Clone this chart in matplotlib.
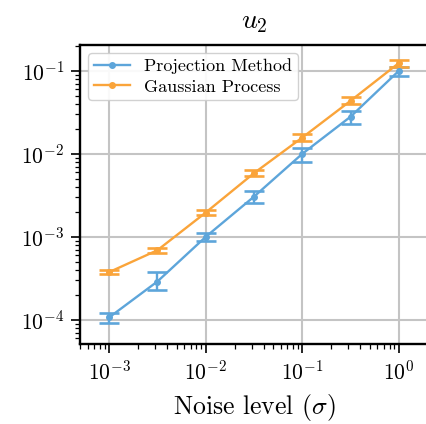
import matplotlib
matplotlib.use("Agg")
import matplotlib.pyplot as plt
import numpy as np

plt.rcParams['font.family'] = 'serif'
plt.rcParams['font.serif'] = ['cmr10', 'DejaVu Serif']
plt.rcParams['mathtext.fontset'] = 'cm'
plt.rcParams['axes.formatter.use_mathtext'] = True
plt.rcParams['axes.unicode_minus'] = False

# noise levels
sigma = [1e-3, 10**-2.5, 1e-2, 10**-1.5, 1e-1, 10**-0.5, 1.0]

# projection method: mean, lower, upper
pm_mean = [1.07e-4, 2.9e-4, 1.0e-3, 3.05e-3, 1.0e-2, 2.8e-2, 0.100]
pm_low = [9.1e-5, 2.3e-4, 0.90e-3, 2.55e-3, 0.80e-2, 2.3e-2, 0.087]
pm_high = [1.22e-4, 3.75e-4, 1.12e-3, 3.55e-3, 1.17e-2, 3.3e-2, 0.112]

# gaussian process: mean, lower, upper
gp_mean = [3.76e-4, 6.9e-4, 1.96e-3, 5.85e-3, 1.57e-2, 4.35e-2, 0.124]
gp_low = [3.55e-4, 6.4e-4, 1.83e-3, 5.4e-3, 1.43e-2, 3.95e-2, 0.112]
gp_high = [3.95e-4, 7.4e-4, 2.1e-3, 6.3e-3, 1.72e-2, 4.8e-2, 0.135]

blue = '#5DA5DA'
orange = '#FAA43A'

fig = plt.figure(figsize=(4.26, 4.24), dpi=100)
ax = fig.add_axes([80/426, 80/424, 348/426, 299/424])

def err(mean, low, high):
    m = np.array(mean)
    return [m - np.array(low), np.array(high) - m]

pm = ax.errorbar(sigma, pm_mean, yerr=err(pm_mean, pm_low, pm_high), color=blue,
                 marker='o', markersize=4, lw=1.7, capsize=7.5, capthick=1.9,
                 elinewidth=1.7, zorder=3)
gp = ax.errorbar(sigma, gp_mean, yerr=err(gp_mean, gp_low, gp_high), color=orange,
                 marker='o', markersize=4, lw=1.7, capsize=7.5, capthick=1.9,
                 elinewidth=1.7, zorder=3)

ax.set_xscale('log')
ax.set_yscale('log')
ax.set_xlim(5e-4, 2)
ax.set_ylim(10**-4.29, 10**-0.69)
ax.grid(True, which='major', color='#c4c4c4', lw=1.5)
ax.set_axisbelow(True)

for s in ax.spines.values():
    s.set_linewidth(1.7)
ax.tick_params(which='major', length=6.5, width=1.2, labelsize=15.5, direction='out', pad=5)
ax.tick_params(which='minor', length=3.5, width=0.9, direction='out')

ax.set_xlabel(r'Noise level ($\sigma$)', fontsize=18.5, labelpad=6)
ax.set_title(r'$u_2$', fontsize=20, pad=12)

ax.legend([pm[0], gp[0]], ['Projection Method', 'Gaussian Process'],
          loc='upper left', fontsize=13, framealpha=0.9, edgecolor='#cccccc',
          handlelength=2, borderaxespad=0.45, borderpad=0.3, labelspacing=0.25)

fig.savefig('out.png', dpi=100)
